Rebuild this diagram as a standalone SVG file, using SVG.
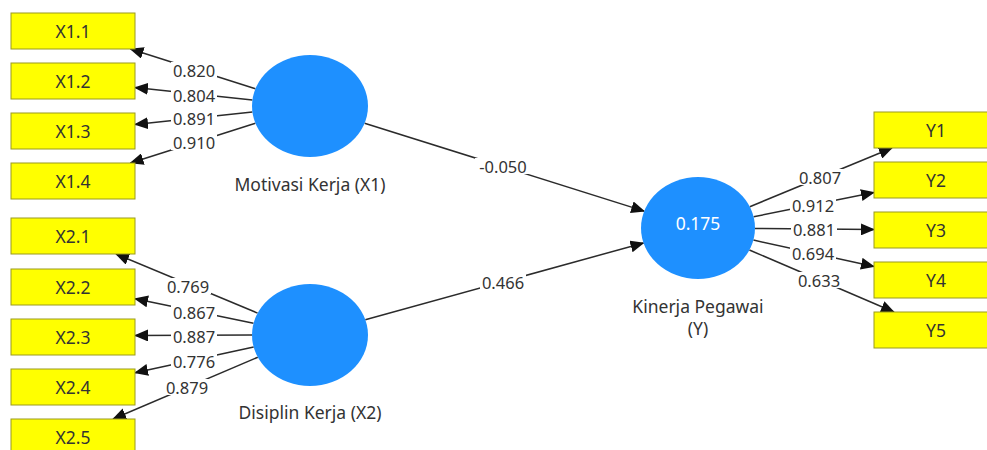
<svg xmlns="http://www.w3.org/2000/svg" width="987" height="450" viewBox="0 0 987 450">
<style>
.box{fill:#ffff00;stroke:#9a9a20;stroke-width:1}
.bt{font-family:"Noto Sans","Open Sans",sans-serif;font-size:17.5px;fill:#333;text-anchor:middle;dominant-baseline:central}
.lv{fill:#1e90ff}
.lt{font-family:"Noto Sans","Open Sans",sans-serif;font-size:17.5px;fill:#333;text-anchor:middle;dominant-baseline:central}
.ct{font-family:"Noto Sans","Open Sans",sans-serif;font-size:17.5px;fill:#ffffff;text-anchor:middle;dominant-baseline:central}
.ln{stroke:#2b2b2b;stroke-width:1.5;fill:none;marker-end:url(#ah)}
.lb{fill:#ffffff}
.wt{font-family:"Noto Sans","Open Sans",sans-serif;font-size:16.5px;fill:#333;text-anchor:middle;dominant-baseline:central}
</style>
<defs>
<marker id="ah" markerUnits="userSpaceOnUse" markerWidth="14" markerHeight="12" viewBox="0 0 14 12" refX="13" refY="6" orient="auto">
<path d="M0,0 L14,6 L0,12 Z" fill="#111"/>
</marker>
</defs>
<rect width="987" height="450" fill="#ffffff"/>
<g id="connectors">
<line class="ln" x1="255.4" y1="88.7" x2="130.5" y2="49"/>
<line class="ln" x1="252.4" y1="99.9" x2="135" y2="87.5"/>
<line class="ln" x1="252.4" y1="112.1" x2="135" y2="124.5"/>
<line class="ln" x1="255.4" y1="123.3" x2="130.5" y2="163"/>
<line class="ln" x1="257.6" y1="313.1" x2="116" y2="254"/>
<line class="ln" x1="253.5" y1="323.3" x2="135" y2="298.8"/>
<line class="ln" x1="252" y1="335" x2="135" y2="335.5"/>
<line class="ln" x1="253.7" y1="347.1" x2="135" y2="372.7"/>
<line class="ln" x1="257.8" y1="357.2" x2="113" y2="419"/>
<line class="ln" x1="364.6" y1="123.2" x2="644.2" y2="211.1"/>
<line class="ln" x1="365.3" y1="319.7" x2="643.5" y2="243"/>
<line class="ln" x1="749.8" y1="206.7" x2="892" y2="148"/>
<line class="ln" x1="753.6" y1="216.8" x2="874" y2="192.5"/>
<line class="ln" x1="755" y1="228.5" x2="874" y2="229.5"/>
<line class="ln" x1="753.4" y1="240.1" x2="874" y2="266.5"/>
<line class="ln" x1="749.4" y1="250" x2="894" y2="312"/>
<g id="labels">
<rect class="lb" x="171" y="62" width="46" height="16"/><text class="wt" x="194" y="70">0.820</text>
<rect class="lb" x="171" y="87" width="46" height="16"/><text class="wt" x="194" y="95">0.804</text>
<rect class="lb" x="171" y="110" width="46" height="16"/><text class="wt" x="194" y="118">0.891</text>
<rect class="lb" x="171" y="134" width="46" height="16"/><text class="wt" x="194" y="142">0.910</text>
<rect class="lb" x="165" y="278" width="46" height="16"/><text class="wt" x="188" y="286">0.769</text>
<rect class="lb" x="171" y="304" width="46" height="16"/><text class="wt" x="194" y="312">0.867</text>
<rect class="lb" x="171" y="328" width="46" height="16"/><text class="wt" x="194" y="336">0.887</text>
<rect class="lb" x="171" y="353" width="46" height="16"/><text class="wt" x="194" y="361">0.776</text>
<rect class="lb" x="164" y="379" width="46" height="16"/><text class="wt" x="187" y="387">0.879</text>
<rect class="lb" x="475" y="158" width="56" height="16"/><text class="wt" x="503" y="166">-0.050</text>
<rect class="lb" x="480" y="274" width="46" height="16"/><text class="wt" x="503" y="282">0.466</text>
<rect class="lb" x="797" y="169" width="46" height="16"/><text class="wt" x="820" y="177">0.807</text>
<rect class="lb" x="790" y="197" width="46" height="16"/><text class="wt" x="813" y="205">0.912</text>
<rect class="lb" x="791" y="221" width="46" height="16"/><text class="wt" x="814" y="229">0.881</text>
<rect class="lb" x="790" y="245" width="46" height="16"/><text class="wt" x="813" y="253">0.694</text>
<rect class="lb" x="796" y="272" width="46" height="16"/><text class="wt" x="819" y="280">0.633</text>
</g>
</g>
<g id="X1.1"><rect class="box" x="11" y="13" width="124" height="36"/><text class="bt" x="73" y="31">X1.1</text></g>
<g id="X1.2"><rect class="box" x="11" y="63" width="124" height="36"/><text class="bt" x="73" y="81">X1.2</text></g>
<g id="X1.3"><rect class="box" x="11" y="113" width="124" height="36"/><text class="bt" x="73" y="131">X1.3</text></g>
<g id="X1.4"><rect class="box" x="11" y="163" width="124" height="36"/><text class="bt" x="73" y="181">X1.4</text></g>
<g id="X2.1"><rect class="box" x="11" y="218" width="124" height="36"/><text class="bt" x="73" y="236">X2.1</text></g>
<g id="X2.2"><rect class="box" x="11" y="269" width="124" height="36"/><text class="bt" x="73" y="287">X2.2</text></g>
<g id="X2.3"><rect class="box" x="11" y="319" width="124" height="36"/><text class="bt" x="73" y="337">X2.3</text></g>
<g id="X2.4"><rect class="box" x="11" y="369" width="124" height="36"/><text class="bt" x="73" y="387">X2.4</text></g>
<g id="X2.5"><rect class="box" x="11" y="419" width="124" height="36"/><text class="bt" x="73" y="437">X2.5</text></g>
<g id="Y1"><rect class="box" x="874" y="112" width="124" height="36"/><text class="bt" x="936" y="130">Y1</text></g>
<g id="Y2"><rect class="box" x="874" y="162" width="124" height="36"/><text class="bt" x="936" y="180">Y2</text></g>
<g id="Y3"><rect class="box" x="874" y="212" width="124" height="36"/><text class="bt" x="936" y="230">Y3</text></g>
<g id="Y4"><rect class="box" x="874" y="262" width="124" height="36"/><text class="bt" x="936" y="280">Y4</text></g>
<g id="Y5"><rect class="box" x="874" y="312" width="124" height="36"/><text class="bt" x="936" y="330">Y5</text></g>
<g id="X1"><ellipse class="lv" cx="310" cy="106" rx="58" ry="51"/><text class="lt" x="310" y="184">Motivasi Kerja (X1)</text></g>
<g id="X2"><ellipse class="lv" cx="310" cy="335" rx="58" ry="51"/><text class="lt" x="310" y="412">Disiplin Kerja (X2)</text></g>
<g id="Y"><ellipse class="lv" cx="698" cy="228" rx="57" ry="51"/><text class="ct" x="698" y="223">0.175</text><text class="lt" x="698" y="306">Kinerja Pegawai</text><text class="lt" x="698" y="328">(Y)</text></g>
</svg>
